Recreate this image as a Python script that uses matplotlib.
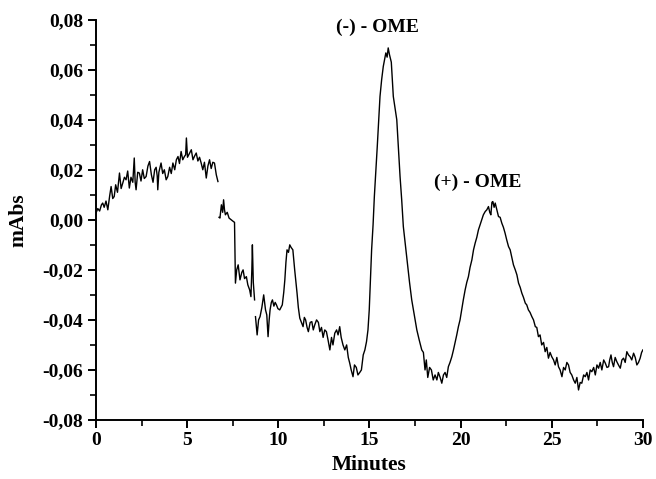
import numpy as np
import matplotlib
matplotlib.use("Agg")
import matplotlib.pyplot as plt
from matplotlib.ticker import MultipleLocator, FuncFormatter

# ---- data (minutes, mAbs) ----
minutes_a = [0.00, 0.10, 0.20, 0.30, 0.37, 0.45, 0.55, 0.65, 0.75, 0.83,
             0.92, 1.00, 1.08, 1.18, 1.29, 1.38, 1.47, 1.56, 1.65, 1.74,
             1.83, 1.92, 2.02, 2.10, 2.15, 2.20, 2.29, 2.38, 2.47, 2.56,
             2.65, 2.75, 2.85, 2.94, 3.04, 3.13, 3.22, 3.30, 3.36, 3.39,
             3.45, 3.57, 3.66, 3.75, 3.85, 3.94, 4.04, 4.13, 4.22, 4.32,
             4.41, 4.50, 4.58, 4.67, 4.76, 4.85, 4.92, 4.96, 5.02, 5.14,
             5.23, 5.32, 5.41, 5.50, 5.59, 5.68, 5.77, 5.86, 5.95, 6.05,
             6.14, 6.23, 6.32, 6.41, 6.50, 6.60, 6.69]
mabs_a = [0.0027, 0.0045, 0.0035, 0.0060, 0.0067, 0.0050, 0.0075, 0.0040, 0.0095, 0.0133,
          0.0085, 0.0093, 0.0140, 0.0110, 0.0187, 0.0125, 0.0147, 0.0170, 0.0160, 0.0195,
          0.0127, 0.0170, 0.0150, 0.0247, 0.0150, 0.0120, 0.0190, 0.0187, 0.0155, 0.0200,
          0.0165, 0.0173, 0.0215, 0.0233, 0.0180, 0.0150, 0.0200, 0.0210, 0.0175, 0.0120,
          0.0190, 0.0227, 0.0185, 0.0200, 0.0160, 0.0173, 0.0210, 0.0185, 0.0227, 0.0200,
          0.0240, 0.0253, 0.0225, 0.0273, 0.0240, 0.0253, 0.0260, 0.0327, 0.0250, 0.0267,
          0.0280, 0.0240, 0.0255, 0.0267, 0.0235, 0.0250, 0.0227, 0.0200, 0.0230, 0.0167,
          0.0215, 0.0240, 0.0205, 0.0230, 0.0227, 0.0180, 0.0153]

minutes_b = [6.75, 6.80, 6.88, 6.95, 7.00, 7.05, 7.10, 7.20, 7.30, 7.42,
             7.54, 7.60, 7.65, 7.72, 7.80, 7.90, 8.00, 8.07, 8.15, 8.25,
             8.33, 8.43, 8.50, 8.55, 8.58, 8.63, 8.70]
mabs_b = [0.0010, 0.0007, 0.0060, 0.0030, 0.0080, 0.0040, 0.0020, 0.0030, 0.0007, 0.0000,
          -0.0007, -0.0010, -0.0253, -0.0200, -0.0180, -0.0240, -0.0210, -0.0200, -0.0235, -0.0227,
          -0.0260, -0.0280, -0.0307, -0.0200, -0.0100, -0.0250, -0.0320]

minutes_c = [8.75, 8.84, 8.92, 9.00, 9.10, 9.20, 9.30, 9.37, 9.44, 9.50,
             9.55, 9.62, 9.68, 9.76, 9.83, 9.90, 9.98, 10.08, 10.15, 10.22,
             10.30, 10.36, 10.42, 10.48, 10.56, 10.63, 10.70, 10.80, 10.90, 10.97,
             11.03, 11.10, 11.18, 11.27, 11.36, 11.43, 11.50, 11.58, 11.65, 11.75,
             11.84, 11.92, 12.00, 12.10, 12.20, 12.28, 12.37, 12.46, 12.55, 12.64,
             12.73, 12.83, 12.92, 13.00, 13.10, 13.20, 13.28, 13.37, 13.45, 13.55,
             13.65, 13.75, 13.84, 13.92, 14.00, 14.10, 14.18, 14.28, 14.37, 14.47,
             14.56, 14.66, 14.75, 14.84, 14.92, 14.99, 15.05, 15.12, 15.20, 15.27,
             15.35, 15.43, 15.50, 15.58, 15.67, 15.76, 15.83, 15.90, 15.97, 16.03,
             16.10, 16.20, 16.31, 16.40, 16.50, 16.59, 16.68, 16.77, 16.86, 16.97,
             17.08, 17.20, 17.32, 17.46, 17.60, 17.73, 17.87, 17.96, 18.05, 18.12,
             18.20, 18.30, 18.40, 18.50, 18.60, 18.70, 18.78, 18.88, 18.97, 19.06,
             19.15, 19.24, 19.33, 19.42, 19.52, 19.61, 19.70, 19.79, 19.88, 19.97,
             20.06, 20.15, 20.25, 20.34, 20.43, 20.52, 20.62, 20.71, 20.80, 20.89,
             20.98, 21.07, 21.16, 21.25, 21.35, 21.44, 21.53, 21.60, 21.66, 21.72,
             21.77, 21.84, 21.90, 21.99, 22.08, 22.17, 22.26, 22.35, 22.44, 22.53,
             22.63, 22.72, 22.80, 22.90, 23.00, 23.09, 23.18, 23.27, 23.36, 23.45,
             23.55, 23.63, 23.72, 23.81, 23.91, 24.00, 24.10, 24.18, 24.27, 24.36,
             24.45, 24.55, 24.64, 24.73, 24.82, 24.91, 25.00, 25.10, 25.19, 25.28,
             25.37, 25.46, 25.56, 25.65, 25.74, 25.83, 25.92, 26.01, 26.10, 26.20,
             26.29, 26.38, 26.47, 26.56, 26.65, 26.75, 26.84, 26.93, 27.02, 27.11,
             27.20, 27.30, 27.39, 27.48, 27.57, 27.66, 27.75, 27.85, 27.94, 28.03,
             28.12, 28.18, 28.25, 28.32, 28.39, 28.48, 28.57, 28.66, 28.76, 28.85,
             28.94, 29.03, 29.12, 29.21, 29.30, 29.39, 29.49, 29.58, 29.67, 29.76,
             29.85, 29.93, 30.00]
mabs_c = [-0.0387, -0.0460, -0.0400, -0.0387, -0.0350, -0.0300, -0.0360, -0.0380, -0.0467, -0.0400,
          -0.0360, -0.0330, -0.0320, -0.0345, -0.0330, -0.0340, -0.0355, -0.0360, -0.0350, -0.0340,
          -0.0290, -0.0240, -0.0170, -0.0120, -0.0130, -0.0100, -0.0110, -0.0120, -0.0200, -0.0250,
          -0.0293, -0.0350, -0.0393, -0.0410, -0.0427, -0.0390, -0.0400, -0.0430, -0.0447, -0.0410,
          -0.0407, -0.0440, -0.0420, -0.0400, -0.0410, -0.0447, -0.0430, -0.0470, -0.0440, -0.0447,
          -0.0480, -0.0520, -0.0470, -0.0500, -0.0453, -0.0440, -0.0460, -0.0427, -0.0470, -0.0500,
          -0.0520, -0.0500, -0.0550, -0.0573, -0.0600, -0.0627, -0.0580, -0.0590, -0.0620, -0.0610,
          -0.0600, -0.0540, -0.0520, -0.0487, -0.0440, -0.0360, -0.0250, -0.0120, -0.0020, 0.0093,
          0.0190, 0.0293, 0.0390, 0.0493, 0.0560, 0.0613, 0.0640, 0.0667, 0.0650, 0.0687,
          0.0660, 0.0630, 0.0493, 0.0450, 0.0400, 0.0290, 0.0173, 0.0080, -0.0027, -0.0100,
          -0.0173, -0.0250, -0.0320, -0.0380, -0.0440, -0.0480, -0.0520, -0.0530, -0.0600, -0.0560,
          -0.0630, -0.0590, -0.0600, -0.0640, -0.0620, -0.0640, -0.0610, -0.0630, -0.0653, -0.0620,
          -0.0610, -0.0630, -0.0587, -0.0570, -0.0547, -0.0520, -0.0490, -0.0460, -0.0427, -0.0400,
          -0.0360, -0.0320, -0.0280, -0.0250, -0.0227, -0.0190, -0.0160, -0.0120, -0.0093, -0.0070,
          -0.0040, -0.0020, 0.0000, 0.0020, 0.0033, 0.0040, 0.0053, 0.0030, 0.0020, 0.0070,
          0.0073, 0.0050, 0.0067, 0.0040, 0.0013, 0.0010, -0.0013, -0.0030, -0.0053, -0.0080,
          -0.0107, -0.0120, -0.0147, -0.0180, -0.0200, -0.0220, -0.0253, -0.0270, -0.0293, -0.0310,
          -0.0333, -0.0340, -0.0360, -0.0370, -0.0387, -0.0400, -0.0427, -0.0430, -0.0467, -0.0460,
          -0.0500, -0.0490, -0.0527, -0.0510, -0.0553, -0.0530, -0.0547, -0.0560, -0.0580, -0.0550,
          -0.0587, -0.0600, -0.0627, -0.0590, -0.0600, -0.0570, -0.0580, -0.0610, -0.0620, -0.0640,
          -0.0653, -0.0630, -0.0680, -0.0650, -0.0653, -0.0620, -0.0627, -0.0610, -0.0640, -0.0600,
          -0.0607, -0.0590, -0.0620, -0.0580, -0.0593, -0.0570, -0.0600, -0.0560, -0.0573, -0.0590,
          -0.0587, -0.0560, -0.0540, -0.0570, -0.0587, -0.0550, -0.0567, -0.0580, -0.0593, -0.0560,
          -0.0553, -0.0570, -0.0527, -0.0540, -0.0547, -0.0560, -0.0533, -0.0550, -0.0580, -0.0570,
          -0.0553, -0.0530, -0.0520]

peak_labels = ["(-) - OME", "(+) - OME"]
peak_label_x = [15.45, 20.95]
peak_label_y = [0.0768, 0.0150]

x_label = "Minutes"
y_label = "mAbs"

# ---- plotting ----
FONT = "Liberation Serif"
plt.rcParams["font.family"] = [FONT, "DejaVu Serif"]
plt.rcParams["font.weight"] = "bold"

fig = plt.figure(figsize=(6.56, 4.79), dpi=100)
ax = fig.add_axes([0.1463, 0.1232, 0.8337, 0.8358])

for t, v in [(minutes_a, mabs_a), (minutes_b, mabs_b), (minutes_c, mabs_c)]:
    ax.plot(t, v, color="black", linewidth=1.0)

for lab, lx, ly in zip(peak_labels, peak_label_x, peak_label_y):
    ax.text(lx, ly, lab, ha="center", va="center", fontsize=14,
            fontweight="bold", color="black")

ax.set_xlim(0, 30)
ax.set_ylim(-0.08, 0.08)
ax.xaxis.set_major_locator(MultipleLocator(5))
ax.xaxis.set_minor_locator(MultipleLocator(2.5))
ax.yaxis.set_major_locator(MultipleLocator(0.02))
ax.yaxis.set_minor_locator(MultipleLocator(0.01))
ax.yaxis.set_major_formatter(FuncFormatter(
    lambda v, p: ("%.2f" % v).replace(".", ",").replace("-0,00", "0,00")))
ax.xaxis.set_major_formatter(FuncFormatter(lambda v, p: "%d" % round(v)))

for s in ["top", "right"]:
    ax.spines[s].set_visible(False)
for s in ["left", "bottom"]:
    ax.spines[s].set_linewidth(1.4)

ax.tick_params(axis="both", which="major", direction="out", length=6,
               width=1.4, labelsize=14, pad=3)
ax.tick_params(axis="both", which="minor", direction="out", length=4,
               width=1.2)
for lbl in ax.get_xticklabels() + ax.get_yticklabels():
    lbl.set_fontweight("bold")

ax.set_xlabel(x_label, fontsize=15.5, fontweight="bold", labelpad=4)
ax.set_ylabel(y_label, fontsize=15.5, fontweight="bold", labelpad=10)

fig.savefig("out.png", dpi=100)
